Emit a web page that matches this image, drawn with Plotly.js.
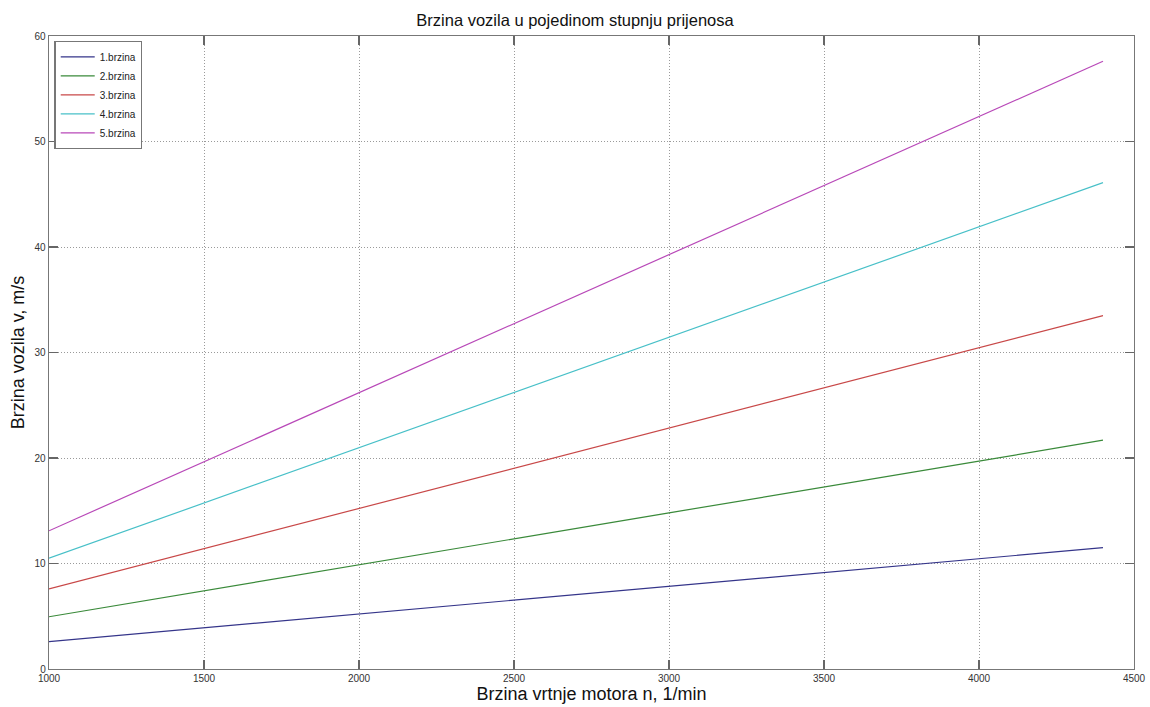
<!DOCTYPE html>
<html>
<head>
<meta charset="utf-8">
<script src="https://cdn.plot.ly/plotly-3.0.1.min.js"></script>
<style>html,body{margin:0;padding:0;background:#fff;}#chart{width:1150px;height:707px;}</style>
</head>
<body>
<div id="chart"></div>
<script>
const rpm = [1000, 2000, 3000, 4000, 4400];
const seriesNames = ['1.brzina', '2.brzina', '3.brzina', '4.brzina', '5.brzina'];
const gear1 = [2.6, 5.2, 7.8, 10.45, 11.5];
const gear2 = [4.95, 9.9, 14.8, 19.7, 21.7];
const gear3 = [7.6, 15.2, 22.8, 30.4, 33.5];
const gear4 = [10.5, 20.95, 31.4, 41.9, 46.1];
const gear5 = [13.1, 26.2, 39.3, 52.4, 57.6];
const xTicks = [1000, 1500, 2000, 2500, 3000, 3500, 4000, 4500];
const yTicks = [0, 10, 20, 30, 40, 50, 60];

const colors = ['#35358a', '#3a8a3a', '#c84848', '#48c0c8', '#b848b8'];
const allSeries = [gear1, gear2, gear3, gear4, gear5];

const traces = allSeries.map((s, i) => ({
  x: rpm, y: s, type: 'scatter', mode: 'lines', name: seriesNames[i],
  line: {color: colors[i], width: 1.2}
}));

const FONT = 'Arial, Liberation Sans, sans-serif';
const axisCommon = {
  showline: true, linecolor: '#777', linewidth: 1.3, mirror: 'ticks',
  ticks: 'inside', ticklen: 9, tickcolor: '#666', tickwidth: 1.3,
  showgrid: true, gridcolor: '#9a9a9a', griddash: '1px,2px', gridwidth: 1,
  zeroline: false, tickfont: {family: FONT, size: 10, color: '#333'}
};

const layout = {
  width: 1150, height: 707,
  margin: {l: 49, r: 16, t: 36, b: 38},
  paper_bgcolor: '#fff', plot_bgcolor: '#fff',
  title: {text: 'Brzina vozila u pojedinom stupnju prijenosa', x: 0.5, xanchor: 'center', y: 0.972, yanchor: 'middle',
    font: {family: FONT, size: 16.5, color: '#111'}},
  xaxis: Object.assign({}, axisCommon, {
    range: [1000, 4500], tickvals: xTicks, ticktext: xTicks.map(String), automargin: false,
    title: {text: 'Brzina vrtnje motora n, 1/min', standoff: 1,
      font: {family: FONT, size: 18, color: '#111'}}
  }),
  yaxis: Object.assign({}, axisCommon, {
    range: [0, 60], tickvals: yTicks, ticktext: yTicks.map(String), automargin: false,
    title: {text: 'Brzina vozila v, m/s', standoff: 5,
      font: {family: FONT, size: 18, color: '#111'}}
  }),
  showlegend: true,
  legend: {x: 0.005, y: 0.992, xanchor: 'left', yanchor: 'top', bgcolor: '#fff',
    bordercolor: '#777', borderwidth: 1.3, tracegroupgap: 0, itemwidth: 34,
    font: {family: FONT, size: 10, color: '#222'}}
};

Plotly.newPlot('chart', traces, layout, {displayModeBar: false, staticPlot: true});
</script>
</body>
</html>
